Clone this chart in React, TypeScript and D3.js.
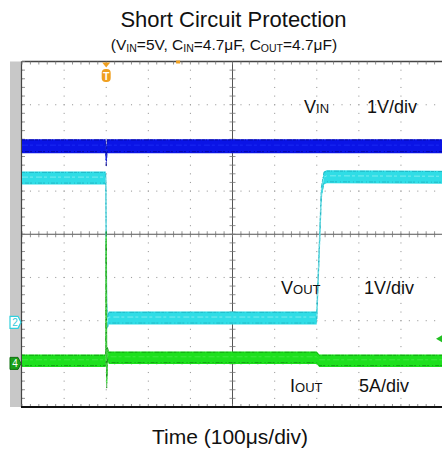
import * as d3 from "d3";

// scope screen: 10 div x 100us, 8 div vertical
const timeDomain = [0, 1000];
const divDomain = [-4, 4];

// VIN (ch1, 1V/div), level in divisions
const vinTime = [0, 199, 200, 202, 1000];
const vinLevel = [2.04, 2.04, 1.7, 2.04, 2.04];

// VOUT (ch2, 1V/div)
const voutTime = [0, 199, 201, 203, 206, 700, 704, 711, 717, 724, 1000];
const voutLevel = [1.3, 1.3, -1.62, -2.05, -1.94, -1.94, -0.9, 0.95, 1.3, 1.33, 1.32];

// IOUT (ch4, 5A/div)
const ioutTime = [0, 199, 200, 201.2, 203, 206, 700, 706, 1000];
const ioutLevel = [-2.93, -2.93, -0.05, -3.45, -2.75, -2.86, -2.86, -2.93, -2.93];

const triggerTime = 200;
const ch2Ground = -2.04;
const ch4Ground = -2.99;
const triggerLevel = -2.42;

const W = 442;
const H = 451;
const plot = { left: 22, right: 443, top: 61.5, bottom: 407 };
const FONT = "'Liberation Sans', Arial, Helvetica, sans-serif";

const x = d3.scaleLinear().domain(timeDomain).range([plot.left, plot.right]);
const y = d3.scaleLinear().domain(divDomain).range([plot.bottom, plot.top]);

type Pt = [number, number];

function Trace(props: {
  t: number[];
  v: number[];
  half: number;
  fill: string;
  edge: string;
  streak: string;
  line: string;
}) {
  const { t, v, half, fill, edge, streak, line } = props;
  const pts: Pt[] = t.map((ti, i) => [x(ti), y(v[i])]);
  const area = d3
    .area<Pt>()
    .x((d) => d[0])
    .y0((d) => d[1] - half)
    .y1((d) => d[1] + half)(pts)!;
  const offset = (o: number) =>
    d3
      .line<Pt>()
      .x((d) => d[0])
      .y((d) => d[1] + o)(pts)!;
  return (
    <g>
      <path d={offset(0)} fill="none" stroke={line} strokeWidth={1.4} />
      <path d={area} fill={fill} />
      <path d={offset(-half + 0.8)} fill="none" stroke={edge} strokeWidth={1} strokeDasharray="3 1 1 2 5 1" opacity={0.7} />
      <path d={offset(half - 1.5)} fill="none" stroke={edge} strokeWidth={1} strokeDasharray="1 2 4 1 2 3" opacity={0.7} />
      <path d={offset(-1)} fill="none" stroke={streak} strokeWidth={1} strokeDasharray="6 2 3 3" opacity={0.5} />
    </g>
  );
}

export default function App() {
  const majorX = d3.range(timeDomain[0], timeDomain[1] + 1, 100);
  const minorX = d3.range(timeDomain[0], timeDomain[1] + 1, 20);
  const majorY = d3.range(divDomain[0], divDomain[1] + 0.01, 1);
  const minorY = d3.range(divDomain[0], divDomain[1] + 0.01, 0.2);
  const tx = x(triggerTime);
  const cx = x(500);
  const cy = y(0);

  const dots: Pt[] = [];
  majorX.forEach((mx) => minorY.forEach((my) => dots.push([x(mx), y(my)])));
  majorY.forEach((my) => minorX.forEach((mx) => dots.push([x(mx), y(my)])));

  const marker = (yy: number) =>
    `M10,${yy - 6}L18,${yy - 6}L21,${yy}L18,${yy + 6}L10,${yy + 6}Z`;

  return (
    <svg width={W} height={H} style={{ position: "absolute", left: 0, top: 0 }} fontFamily={FONT}>
      <rect width={W} height={H} fill="#fff" />

      {/* grey side strip */}
      <rect x={10} y={plot.top} width={plot.left - 10} height={plot.bottom - plot.top} fill="#c8c8c8" />

      {/* dotted grid */}
      {dots.map((d, i) => (
        <rect key={i} x={d[0] - 0.5} y={d[1] - 0.5} width={1.1} height={1.1} fill="#a0a0a0" />
      ))}

      {/* center cross with minor ticks */}
      <line x1={plot.left} x2={plot.right} y1={cy} y2={cy} stroke="#555" strokeWidth={1} />
      <line x1={cx} x2={cx} y1={plot.top} y2={plot.bottom} stroke="#555" strokeWidth={1} />
      {minorX.map((m) => (
        <line key={"cxt" + m} x1={x(m)} x2={x(m)} y1={cy - 3} y2={cy + 3} stroke="#777" strokeWidth={0.8} />
      ))}
      {minorY.map((m) => (
        <line key={"cyt" + m} x1={cx - 3} x2={cx + 3} y1={y(m)} y2={y(m)} stroke="#777" strokeWidth={0.8} />
      ))}

      {/* frame with ticks */}
      <line x1={plot.left} x2={plot.right} y1={plot.top} y2={plot.top} stroke="#444" strokeWidth={1.5} />
      <line x1={plot.left - 0.5} x2={plot.left - 0.5} y1={plot.top} y2={plot.bottom} stroke="#444" strokeWidth={1.2} />
      {minorX.map((m) => (
        <g key={"ft" + m}>
          <line x1={x(m)} x2={x(m)} y1={plot.top} y2={plot.top + 3} stroke="#777" strokeWidth={0.8} />
          <line x1={x(m)} x2={x(m)} y1={plot.bottom - 3} y2={plot.bottom} stroke="#777" strokeWidth={0.8} />
        </g>
      ))}
      {minorY.map((m) => (
        <line key={"fl" + m} x1={plot.left} x2={plot.left + 3} y1={y(m)} y2={y(m)} stroke="#777" strokeWidth={0.8} />
      ))}
      <line x1={plot.left - 1} x2={plot.right} y1={plot.bottom} y2={plot.bottom} stroke="#111" strokeWidth={2} />

      {/* traces */}
      <Trace t={vinTime} v={vinLevel} half={7} fill="#0a14e6" edge="#00008a" streak="#2a40ff" line="#4050f0" />
      <Trace t={voutTime} v={voutLevel} half={6.5} fill="#30dde6" edge="#1aa8b8" streak="#c8fafa" line="#7ae8ee" />
      <Trace t={ioutTime} v={ioutLevel} half={6.3} fill="#1ee01e" edge="#0f8a0f" streak="#60f060" line="#8aee8a" />

      {/* trigger markers */}
      <path d={`M${tx - 4},${plot.top + 1}L${tx + 4},${plot.top + 1}L${tx},${plot.top + 6}Z`} fill="#f0a020" />
      <rect x={tx - 4.5} y={plot.top + 7.5} width={9} height={13} rx={4} fill="#f0a020" />
      <text x={tx} y={plot.top + 18.5} fontSize={10.5} fontWeight="bold" fill="#fff" textAnchor="middle">T</text>
      <rect x={x(366)} y={plot.top - 1} width={4} height={3} fill="#f0a020" />
      <path d={`M${W - 6},${y(triggerLevel)}L${W},${y(triggerLevel) - 3.5}L${W},${y(triggerLevel) + 3.5}Z`} fill="#22c022" />

      {/* channel ground markers */}
      <path d={marker(y(ch2Ground))} fill="#fff" stroke="#30d0dd" strokeWidth={1.2} />
      <text x={15} y={y(ch2Ground) + 4} fontSize={10} fill="#30c8d8" textAnchor="middle">2</text>
      <path d={marker(y(ch4Ground))} fill="#1aa01a" stroke="#0e700e" strokeWidth={1} />
      <text x={15} y={y(ch4Ground) + 4} fontSize={10} fill="#fff" textAnchor="middle">4</text>

      {/* titles */}
      <text x={233.5} y={27} fontSize={22} textAnchor="middle" fill="#111">Short Circuit Protection</text>
      <text x={224} y={50} fontSize={15.5} textAnchor="middle" fill="#111">
        (V<tspan fontSize={10.5} dy={1.5}>IN</tspan>
        <tspan dy={-1.5}>=5V, C</tspan>
        <tspan fontSize={10.5} dy={1.5}>IN</tspan>
        <tspan dy={-1.5}>=4.7μF, C</tspan>
        <tspan fontSize={10.5} dy={1.5}>OUT</tspan>
        <tspan dy={-1.5}>=4.7μF)</tspan>
      </text>

      {/* channel labels */}
      <text x={304} y={113} fontSize={18} fill="#111">
        V<tspan fontSize={13}>IN</tspan>
      </text>
      <text x={367} y={113} fontSize={18} fill="#111">1V/div</text>
      <text x={281} y={294} fontSize={18} fill="#111">
        V<tspan fontSize={13}>OUT</tspan>
      </text>
      <text x={364} y={294} fontSize={18} fill="#111">1V/div</text>
      <text x={290} y={392} fontSize={18} fill="#111">
        I<tspan fontSize={13}>OUT</tspan>
      </text>
      <text x={359} y={392} fontSize={18} fill="#111">5A/div</text>

      <text x={230} y={444} fontSize={21} textAnchor="middle" fill="#111">Time (100μs/div)</text>
    </svg>
  );
}
